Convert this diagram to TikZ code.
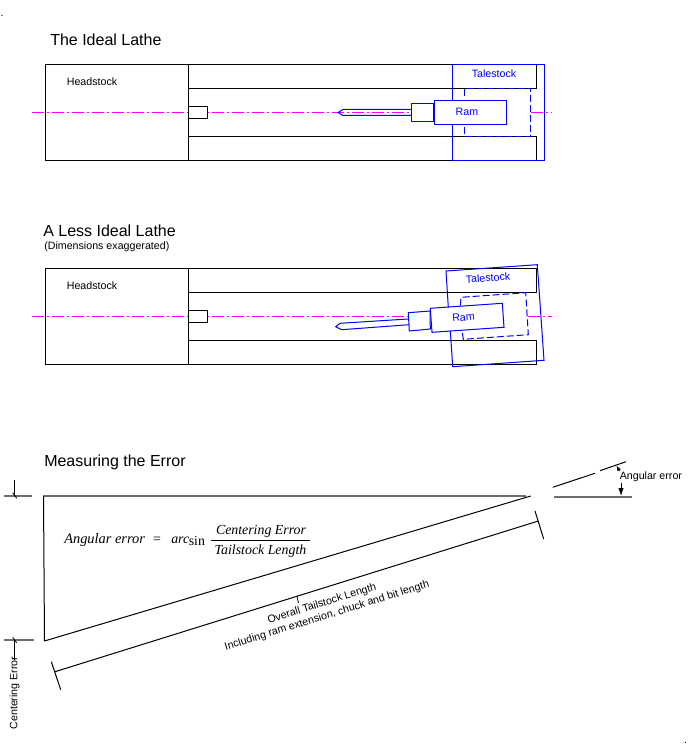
\documentclass[tikz,border=0pt]{standalone}
\usepackage{fontspec}
\usetikzlibrary{arrows.meta}
\setmainfont{Liberation Sans}
\newfontfamily\timesf{Liberation Serif}
\definecolor{bluel}{RGB}{0,0,255}
\definecolor{magl}{RGB}{255,0,255}
\definecolor{grayl}{RGB}{110,110,110}
\tikzset{
  blk/.style={draw=black,line width=0.75pt},
  blu/.style={draw=bluel,line width=0.75pt},
  bluedash/.style={draw=bluel,line width=0.75pt,dash pattern=on 5.25pt off 2.25pt},
  centerl/.style={draw=magl,line width=0.8pt,dash pattern=on 9pt off 2pt on 2pt off 2pt},
  grayline/.style={draw=grayl,line width=1.1pt},
  thinblk/.style={draw=black,line width=0.6pt},
  title/.style={inner sep=0pt,anchor=west,font=\fontsize{12}{14}\selectfont},
  lab/.style={inner sep=0pt,font=\fontsize{8}{10}\selectfont},
  mth/.style={inner sep=0pt,font=\fontsize{10.4}{12}\selectfont\timesf\itshape},
  mthr/.style={inner sep=0pt,font=\fontsize{10.4}{12}\selectfont\timesf},
}
\begin{document}
\begin{tikzpicture}[x=0.75pt,y=-0.75pt]
\useasboundingbox (0,0) rectangle (688,748);
\fill[white] (0,0) rectangle (688,748);
\node[lab,anchor=base] (dotA) at (2,16.5) {.};
\node[lab,anchor=base] (dotB) at (685.7,743.5) {.};
% --- Ideal lathe
\node[title] (t1) at (50,40) {The Ideal Lathe};
\draw[blk] (45.5,65) rectangle (188.5,160.5);
\draw[blk] (188.5,65) -- (536.5,65) -- (536.5,88.5) -- (188.5,88.5);
\draw[blk] (188.5,136.5) -- (536.5,136.5) -- (536.5,160.5) -- (188.5,160.5);
\draw[centerl] (32,112.5) -- (411,112.5);
\draw[centerl] (531,112.5) -- (552,112.5);
\draw[blk,fill=white] (188.5,106.5) rectangle (207,118.5);
\draw[blu] (452.5,100.5) -- (452.5,65) -- (544,65) -- (544,160.5) -- (452.5,160.5) -- (452.5,124.5);
\draw[bluedash] (464.5,96) -- (464.5,88.5) -- (530.5,88.5) -- (530.5,136.5) -- (464.5,136.5) -- (464.5,125);
\draw[blu] (411.5,109.5) -- (343,109.5) -- (338,112.5) -- (343,115.5) -- (411.5,115.5);
\draw[blu] (411.5,103.5) rectangle (433.5,121.5);
\draw[blu] (434.5,100.5) rectangle (506.5,124.5);
\node[lab,text=bluel] (ram1) at (467,112) {Ram};
\node[lab,text=bluel] (tail1) at (494,74) {Talestock};
\node[lab] (head1) at (92,82) {Headstock};
% --- Less ideal lathe
\node[title] (t2) at (43,231) {A Less Ideal Lathe};
\node[inner sep=0pt,anchor=west,font=\fontsize{8}{9}\selectfont] (t2b) at (44,247) {(Dimensions exaggerated)};
\draw[blk] (45.5,268.5) rectangle (188.5,364.5);
\draw[blk] (188.5,268.5) -- (536.5,268.5) -- (536.5,292.5) -- (188.5,292.5);
\draw[blk] (188.5,340.5) -- (536.5,340.5) -- (536.5,364.5) -- (188.5,364.5);
\draw[centerl] (32,316.5) -- (408,316.5);
\draw[centerl] (528,316.5) -- (552,316.5);
\draw[blk,fill=white] (188.5,310.5) rectangle (207,322.5);
\draw[blu] (448.3,307.3) -- (446,271) -- (537.3,264.7) -- (544,360.3) -- (452.7,366.7) -- (450.3,331);
\draw[bluedash] (460.3,305.7) -- (461,297.3) -- (525.7,292.7) -- (528.3,334.7) -- (463.3,339.3) -- (462.3,332.3);
\draw[blu] (408,319) -- (340,323.3) -- (335.7,326.7) -- (341.7,329.7) -- (409,324.7);
\draw[blu] (408.3,312.7) -- (430,311) -- (430.3,329) -- (409.3,331) -- cycle;
\draw[blu] (430.3,308.3) -- (502.3,303.3) -- (504,327.3) -- (432,332.3) -- cycle;
\node[lab,text=bluel,rotate=4] (ram2) at (463.5,317.5) {Ram};
\node[lab,text=bluel,rotate=4] (tail2) at (488,278) {Talestock};
\node[lab] (head2) at (92,286) {Headstock};
% --- Measuring
\node[title] (t3) at (44,462) {Measuring the Error};
\draw[grayline] (43,496) -- (526,496);
\draw[blk] (43.5,496) -- (44.5,641);
\draw[blk] (44.5,641) -- (530.7,496);
\draw[blk] (55,671.7) -- (538.3,521);
\draw[blk] (535,511) -- (543.7,539);
\draw[blk] (51.3,661.7) -- (60.7,689.7);
\draw[thinblk] (297,596.3) -- (298.5,603);
% angular
\draw[blk] (552.7,487.3) -- (595,473.3);
\draw[blk] (600,470.7) -- (626,461.7);
\draw[grayline] (554.3,497) -- (632,497);
\draw[thinblk,-{Latex[length=4pt,width=3pt]}] (619.5,471) -- (616.5,465.5);
\draw[thinblk,-{Latex[length=6pt,width=4pt]}] (621,483) -- (621,496);
\node[lab,anchor=west] (ang) at (619.5,477) {Angular error};
% left dims
\draw[grayline] (4,496) -- (32,496);
\draw[thinblk] (14.5,480) -- (14.5,496);
\draw[thinblk] (12.7,492.7) -- (16.7,498.3);
\draw[grayline] (4,640) -- (33.7,640);
\draw[blk] (14.5,640) -- (14.5,660);
\draw[thinblk] (12.7,637.3) -- (16.7,642.7);
\node[lab,rotate=90] (cerr) at (14.5,693) {Centering Error};
% formula
\node[mth,anchor=west,font=\fontsize{10.8}{12}\selectfont\timesf\itshape] (f1) at (64,540.5) {Angular error};
\node[mthr] (f2) at (157,540) {=};
\node[mth,anchor=west] (f3) at (171,540.5) {arc};
\node[mthr,anchor=west] (f4) at (188.5,540.5) {sin};
\draw[blk,line width=0.6pt] (211,540.5) -- (310,540.5);
\node[mth] (f5) at (261,531) {Centering Error};
\node[mth] (f6) at (260.5,551.5) {Tailstock Length};
% lengths
\node[lab,rotate=17.3] (len1) at (322,604) {Overall Tailstock Length};
\node[lab,rotate=17.3] (len2) at (327,616) {Including ram extension, chuck and bit length};
\end{tikzpicture}
\end{document}
